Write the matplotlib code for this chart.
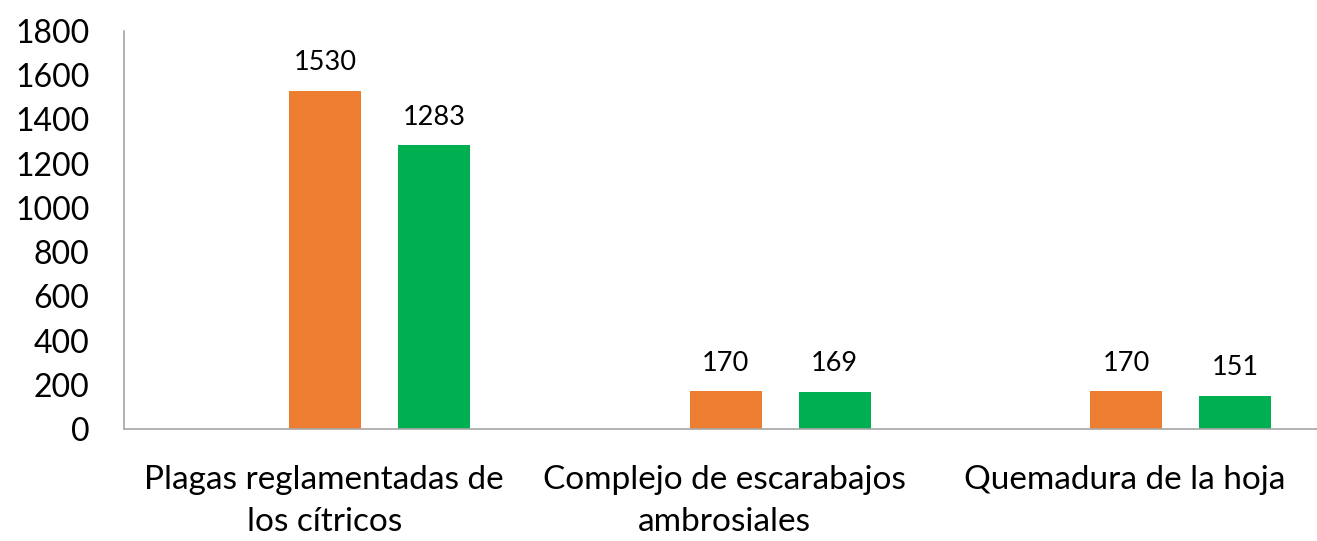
import matplotlib
matplotlib.use("Agg")
from matplotlib import pyplot as plt
import numpy as np

categories = ["Plagas reglamentadas de\nlos cítricos",
              "Complejo de escarabajos\nambrosiales",
              "Quemadura de la hoja"]
orange_vals = [1530, 170, 170]
green_vals = [1283, 169, 151]
yticks = [0, 200, 400, 600, 800, 1000, 1200, 1400, 1600, 1800]

plt.rcParams['font.family'] = ['Lato', 'DejaVu Sans']

fig = plt.figure(figsize=(13.17, 5.41), dpi=100)
# axis region runs slightly past the right edge (as in the original)
ax = fig.add_axes([124/1317, 1 - 429/541, 1201/1317, (429-31)/541])

x = np.arange(len(categories))
step = 0.272
width = 0.18
b1 = ax.bar(x + 0.003, orange_vals, width, color="#ED7D31")
b2 = ax.bar(x + 0.003 + step, green_vals, width, color="#00B050")

for bars in (b1, b2):
    for rect in bars:
        h = rect.get_height()
        ax.annotate(str(int(h)), (rect.get_x() + rect.get_width()/2, h),
                    xytext=(0, 11), textcoords="offset points",
                    ha="center", va="bottom", fontsize=19.5)

ax.set_xlim(-0.5, 2.5)
ax.set_ylim(0, 1800)
ax.set_yticks(yticks)
ax.set_yticklabels([str(t) for t in yticks], fontsize=23)
ax.set_xticks(x)
ax.set_xticklabels(categories, fontsize=24, linespacing=1.5)
ax.tick_params(axis="y", length=0, pad=25)
ax.tick_params(axis="x", length=0, pad=26)

for s in ("top", "right"):
    ax.spines[s].set_visible(False)
for s in ("left", "bottom"):
    ax.spines[s].set_color("#a6a6a6")
    ax.spines[s].set_linewidth(1.2)

fig.savefig("out.png", dpi=100)
